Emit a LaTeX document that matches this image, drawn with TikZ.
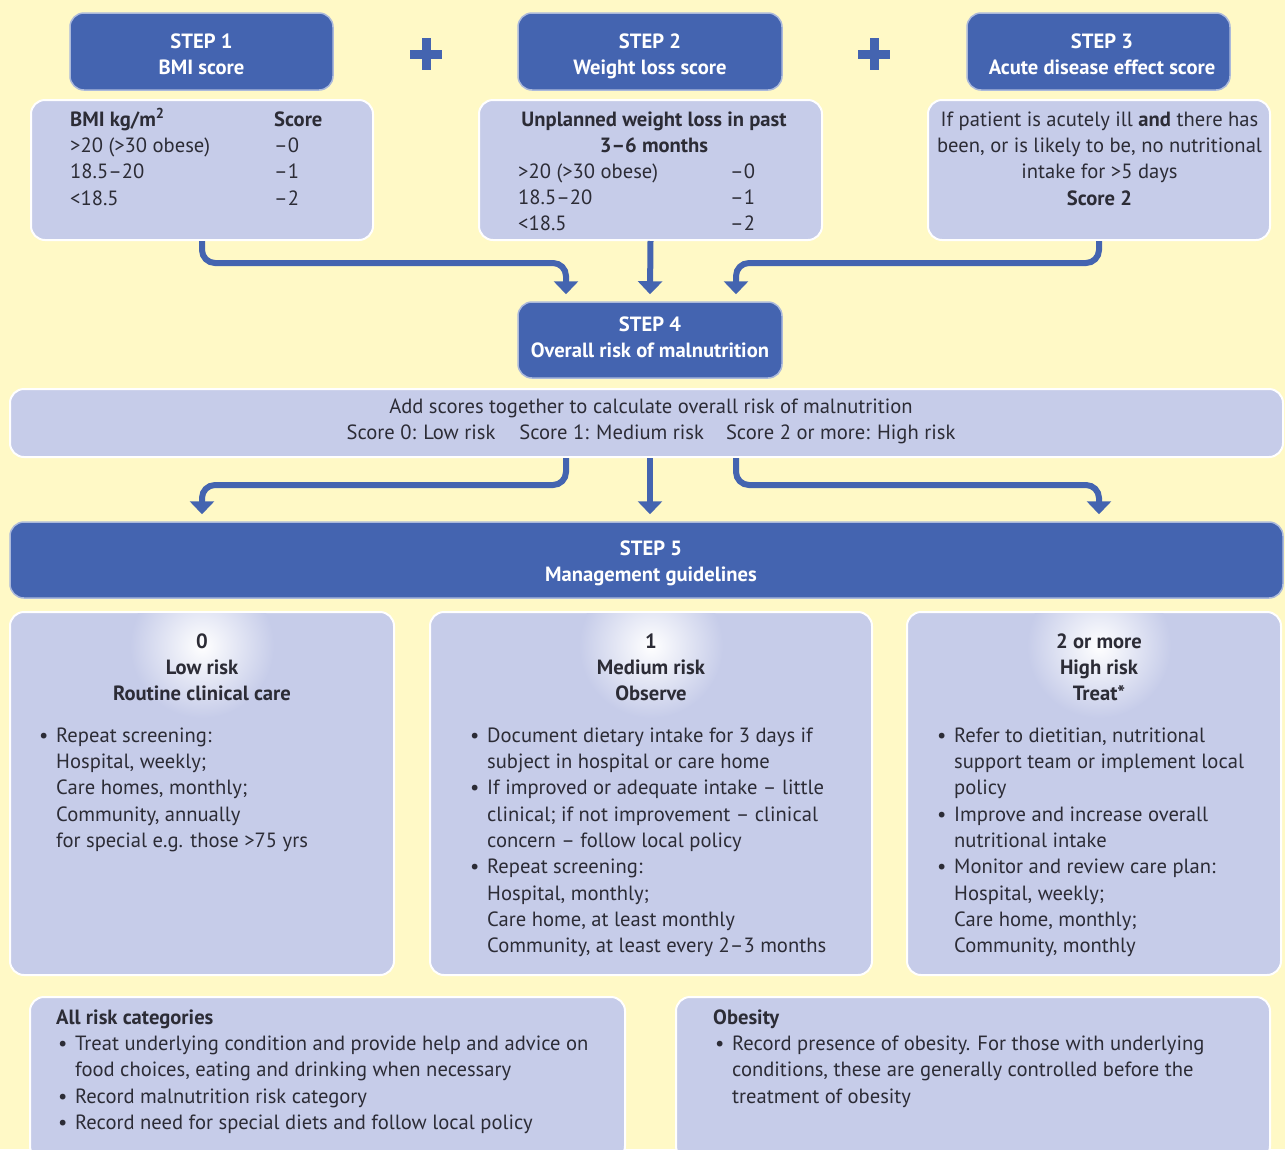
\documentclass[tikz,border=0pt]{standalone}
\usepackage{fontspec}
\setmainfont{PT Sans}
\usetikzlibrary{arrows.meta}
\definecolor{bgc}{HTML}{FFF9C6}
\definecolor{lbc}{HTML}{C6CCE9}
\definecolor{dbc}{HTML}{4464B0}
\definecolor{txc}{HTML}{2C2C36}
\newcommand\myfs{\fontsize{20.6}{26.3}\selectfont}
\newcommand\mybul{\makebox[17pt][l]{\textbullet}}
\newcommand\myind{\hspace*{17pt}}
\begin{document}
\begin{tikzpicture}[x=1pt,y=-1pt,
 lbox/.style={fill=lbc, draw=white, line width=2pt, rounded corners=14pt, inner sep=0pt},
 dbox/.style={fill=dbc, draw=white!55!dbc, line width=1.5pt, rounded corners=14pt, inner sep=0pt},
 dtxt/.style={anchor=north, align=center, text=white, font=\myfs\bfseries, inner sep=0pt},
 txt/.style={inner sep=0pt, text=txc, font=\myfs},
 hdr/.style={txt, anchor=north, align=center, font=\myfs\bfseries},
 arr/.style={draw=dbc, line width=6pt, rounded corners=13pt, -{Triangle[width=24pt,length=13pt]}}]
\useasboundingbox (0,0) rectangle (1285,1149);
\clip (0,0) rectangle (1285,1149);
\fill[bgc] (0,0) rectangle (1285,1149);

% plus signs
\draw[dbc, line width=9pt] (410,54) -- (442,54) (426,38) -- (426,70);
\draw[dbc, line width=9pt] (858,54) -- (890,54) (874,38) -- (874,70);

% step boxes
\node[dbox, minimum width=263, minimum height=77] (s1) at (201.5,51.5) {};
\node[dtxt] (s1t) at (201.5,29.6) {\strut STEP 1\\BMI score};
\node[dbox, minimum width=264, minimum height=77] (s2) at (650,51.5) {};
\node[dtxt] (s2t) at (650,29.6) {\strut STEP 2\\Weight loss score};
\node[dbox, minimum width=263, minimum height=77] (s3) at (1098.5,51.5) {};
\node[dtxt] (s3t) at (1102,29.6) {\strut STEP 3\\Acute disease effect score};

% score boxes
\node[lbox, minimum width=342, minimum height=140] (bmi) at (202,170) {};
\node[lbox, minimum width=343, minimum height=140] (wt) at (650.5,170) {};
\node[lbox, minimum width=342, minimum height=140] (acute) at (1099,170) {};

\node[txt, anchor=north west] (bmitxt) at (70,107.6) {\begin{tabular}{@{}p{204pt}@{}l@{}}\textbf{BMI kg/m\textsuperscript{2}} & \textbf{Score}\\ >20 (>30 obese) & –0\\ 18.5–20 & –1\\ <18.5 & –2\end{tabular}};
\node[hdr] (wtitle) at (654,107.6) {\strut Unplanned weight loss in past\\3–6 months};
\node[txt, anchor=north west] (wrows) at (518,159.6) {\begin{tabular}{@{}p{212pt}@{}l@{}}>20 (>30 obese) & –0\\ 18.5–20 & –1\\ <18.5 & –2\end{tabular}};
\node[txt, anchor=north, align=center] (atxt) at (1099.5,107.6) {\strut If patient is acutely ill \textbf{and} there has\\been, or is likely to be, no nutritional\\intake for >5 days\\\textbf{Score 2}};

% step 4
\node[dbox, minimum width=264, minimum height=76] (s4) at (650,340) {};
\node[dtxt] (s4t) at (650,312.6) {\strut STEP 4\\Overall risk of malnutrition};

% overall score box
\node[lbox, minimum width=1273, minimum height=68] (score) at (646.5,423) {};
\node[txt, anchor=north, align=center] (stxt) at (651,394.6) {\strut Add scores together to calculate overall risk of malnutrition\\Score 0: Low risk\hspace{24pt}Score 1: Medium risk\hspace{22pt}Score 2 or more: High risk};

% step 5
\node[dbox, minimum width=1273, minimum height=76] (s5) at (646.5,560) {};
\node[dtxt] (s5t) at (651,536.6) {\strut STEP 5\\Management guidelines};

% management boxes
\node[lbox, minimum width=384, minimum height=363] (low) at (202,793.5) {};
\node[lbox, minimum width=442, minimum height=363] (med) at (651,793.5) {};
\node[lbox, minimum width=374, minimum height=363] (high) at (1094,793.5) {};
\node[lbox, minimum width=595, minimum height=163] (allr) at (327.5,1078.5) {};
\node[lbox, minimum width=594, minimum height=163] (obes) at (973,1078.5) {};

% glows
\foreach \gx/\bx in {202/low, 651/med, 1099/high} {
  \begin{scope}
    \clip[rounded corners=13pt] ([shift={(2pt,2pt)}]\bx.south west) rectangle ([shift={(-2pt,-2pt)}]\bx.north east);
    \shade[inner color=white, outer color=lbc] (\gx,646) circle (72);
  \end{scope}
}

\node[hdr] (lowh) at (202,629.6) {\strut 0\\Low risk\\Routine clinical care};
\node[hdr] (medh) at (651,629.6) {\strut 1\\Medium risk\\Observe};
\node[hdr] (highh) at (1099,629.6) {\strut 2 or more\\High risk\\Treat*};

\node[txt, anchor=north west, align=left] (lowt) at (39,723.6) {\strut\mybul Repeat screening:\\\myind Hospital, weekly;\\\myind Care homes, monthly;\\\myind Community, annually\\\myind for special e.g. those >75 yrs};
\node[txt, anchor=north west, align=left] (medt) at (470,723.6) {\strut\mybul Document dietary intake for 3 days if\\\myind subject in hospital or care home\\\mybul If improved or adequate intake – little\\\myind clinical; if not improvement – clinical\\\myind concern – follow local policy\\\mybul Repeat screening:\\\myind Hospital, monthly;\\\myind Care home, at least monthly\\\myind Community, at least every 2–3 months};
\node[txt, anchor=north west, align=left] (hight) at (937,723.6) {\strut\mybul Refer to dietitian, nutritional\\\myind support team or implement local\\\myind policy\\\mybul Improve and increase overall\\\myind nutritional intake\\\mybul Monitor and review care plan:\\\myind Hospital, weekly;\\\myind Care home, monthly;\\\myind Community, monthly};

\node[txt, anchor=north west, align=left] (allt) at (56,1005.6) {\strut\textbf{All risk categories}\\\hspace*{2pt}\mybul Treat underlying condition and provide help and advice on\\\hspace*{19pt}food choices, eating and drinking when necessary\\\hspace*{2pt}\mybul Record malnutrition risk category\\\hspace*{2pt}\mybul Record need for special diets and follow local policy};
\node[txt, anchor=north west, align=left] (obt) at (713,1005.6) {\strut\textbf{Obesity}\\\hspace*{2pt}\mybul Record presence of obesity. For those with underlying\\\hspace*{19pt}conditions, these are generally controlled before the\\\hspace*{19pt}treatment of obesity};

% connectors
\coordinate (h1) at (0,263);
\coordinate (h2) at (0,485);
\coordinate (t1) at ([xshift=-84pt,yshift=7pt]s4.north);
\coordinate (t2) at ([yshift=7pt]s4.north);
\coordinate (t3) at ([xshift=86pt,yshift=7pt]s4.north);
\coordinate (s5top) at ([yshift=7pt]s5.north);

\draw[arr] (bmi.south) -- (bmi.south |- h1) -- (t1 |- h1) -- (t1);
\draw[arr] (wt.south) -- (t2);
\draw[arr] (acute.south) -- (acute.south |- h1) -- (t3 |- h1) -- (t3);

\draw[arr] (score.south -| t1) -- (t1 |- h2) -- (bmi.south |- h2) -- (s5top -| bmi.south);
\draw[arr] (score.south -| t2) -- (s5top -| t2);
\draw[arr] (score.south -| t3) -- (t3 |- h2) -- (acute.south |- h2) -- (s5top -| acute.south);
\end{tikzpicture}
\end{document}
